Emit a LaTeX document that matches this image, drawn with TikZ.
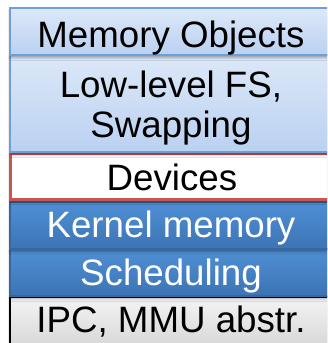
\documentclass[tikz,border=0pt]{standalone}
\usepackage{fontspec}
\setmainfont{Liberation Sans}
\usetikzlibrary{shadows.blur}

\definecolor{paleTop}{HTML}{DCE8F8}
\definecolor{paleBot}{HTML}{BAD1F1}
\definecolor{paleLine}{HTML}{6F9FD8}
\definecolor{deepTop}{HTML}{4F8FD5}
\definecolor{deepBot}{HTML}{3C74B4}
\definecolor{deepLine}{HTML}{3567A0}
\definecolor{greyTop}{HTML}{F4F4F4}
\definecolor{greyBot}{HTML}{D8D8D8}
\definecolor{devLine}{HTML}{C9564F}

\tikzset{
  layer/.style={rectangle, inner sep=0pt, minimum width=340pt,
    blur shadow={shadow xshift=0pt, shadow yshift=-2.5pt,
      shadow blur radius=2.5pt, shadow opacity=35}},
  palelayer/.style={layer, top color=paleTop, bottom color=paleBot,
    draw=paleLine, line width=1.2pt},
  deeplayer/.style={layer, top color=deepTop, bottom color=deepBot,
    draw=deepLine, line width=1.2pt},
  devlayer/.style={layer, fill=white, draw=devLine, line width=3pt},
  greylayer/.style={layer, top color=greyTop, bottom color=greyBot,
    draw=black, line width=1.2pt},
  lbl/.style={anchor=base, inner sep=0pt, font=\fontsize{36.7}{40}\selectfont},
  darklbl/.style={lbl, text=black},
  lightlbl/.style={lbl, text=white},
}

\begin{document}
\begin{tikzpicture}[x=1pt, y=-1pt]
  \useasboundingbox (0,0) rectangle (327,343);
  \clip (0,0) rectangle (327,343);

  % layers, drawn bottom-up so each shadow falls on the layer beneath
  \node[greylayer, minimum height=48pt] (ipc) at (180,321) {};
  \node[deeplayer, minimum height=47pt] (sched) at (180,272.5) {};
  \node[deeplayer, minimum height=47pt] (kmem) at (180,225.5) {};
  \node[devlayer, minimum height=46pt] (dev) at (180,176.5) {};
  \node[palelayer, minimum height=97pt] (lowfs) at (180,103.5) {};
  \node[palelayer, minimum height=47pt] (memobj) at (180,31.5) {};

  % labels
  \node[darklbl] (tmemobj) at (171,47) {Memory Objects};
  \node[darklbl] (tlowfs1) at (171,97) {Low-level FS,};
  \node[darklbl] (tlowfs2) at (171,137) {Swapping};
  \node[darklbl] (tdev) at (172,190) {Devices};
  \node[lightlbl] (tkmem) at (171,237) {Kernel memory};
  \node[lightlbl] (tsched) at (171,285) {Scheduling};
  \node[darklbl] (tipc) at (171,332) {IPC, MMU abstr.};
\end{tikzpicture}
\end{document}
